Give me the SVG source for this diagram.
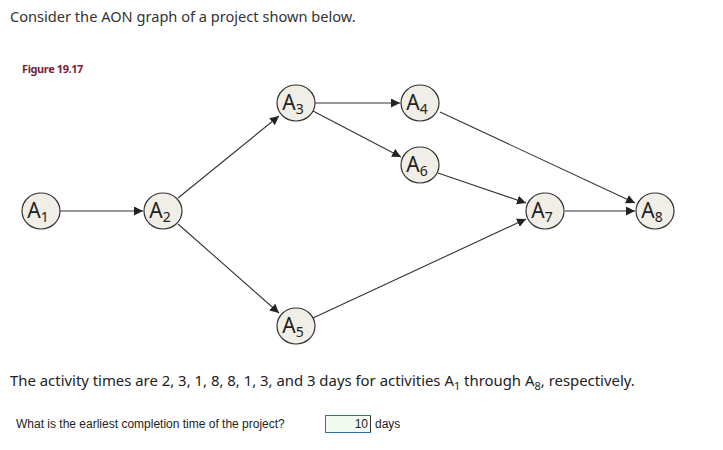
<svg xmlns="http://www.w3.org/2000/svg" width="723" height="450" viewBox="0 0 723 450">
<style>
.n{fill:#f0eee6;stroke:#333;stroke-width:1.2}
.t{font-family:"Noto Sans",sans-serif;font-size:21px;fill:#222;text-anchor:middle}
.s{font-size:14px}
.c line{stroke:#333;stroke-width:1.1;marker-end:url(#a)}
</style>
<defs><marker id="a" viewBox="0 0 10 10" refX="10" refY="5" markerWidth="9" markerHeight="9" markerUnits="userSpaceOnUse" orient="auto"><path d="M0,0L10,5L0,10z" fill="#222"/></marker></defs>
<rect width="723" height="450" fill="#fff"/>
<text x="10" y="22" font-family="'Noto Sans',sans-serif" font-size="14.6" fill="#333">Consider the AON graph of a project shown below.</text>
<text x="22" y="73" font-family="'Noto Sans',sans-serif" font-size="11" font-weight="bold" fill="#7a2233" letter-spacing="-0.4">Figure 19.17</text>
<g class="c">
<line x1="60" y1="211" x2="143" y2="211"/>
<line x1="178" y1="198" x2="279" y2="116"/>
<line x1="178" y1="224" x2="279" y2="313"/>
<line x1="315" y1="103" x2="400" y2="103"/>
<line x1="313" y1="111" x2="401" y2="157"/>
<line x1="438" y1="173" x2="526" y2="203"/>
<line x1="440" y1="112" x2="635" y2="203"/>
<line x1="313" y1="318" x2="526" y2="219"/>
<line x1="565" y1="211" x2="635" y2="211"/>
</g>
<g id="A1"><ellipse class="n" cx="41" cy="211" rx="19" ry="18"/><text class="t" x="38" y="218">A<tspan class="s" dy="4">1</tspan></text></g>
<g id="A2"><ellipse class="n" cx="163" cy="211" rx="19" ry="18"/><text class="t" x="160" y="218">A<tspan class="s" dy="4">2</tspan></text></g>
<g id="A3"><ellipse class="n" cx="296" cy="103" rx="19" ry="18"/><text class="t" x="293" y="110">A<tspan class="s" dy="4">3</tspan></text></g>
<g id="A4"><ellipse class="n" cx="420" cy="103" rx="19" ry="18"/><text class="t" x="417" y="110">A<tspan class="s" dy="4">4</tspan></text></g>
<g id="A6"><ellipse class="n" cx="420" cy="165" rx="19" ry="18"/><text class="t" x="417" y="172">A<tspan class="s" dy="4">6</tspan></text></g>
<g id="A5"><ellipse class="n" cx="296" cy="326" rx="19" ry="18"/><text class="t" x="293" y="333">A<tspan class="s" dy="4">5</tspan></text></g>
<g id="A7"><ellipse class="n" cx="545" cy="211" rx="19" ry="18"/><text class="t" x="542" y="218">A<tspan class="s" dy="4">7</tspan></text></g>
<g id="A8"><ellipse class="n" cx="655" cy="211" rx="19" ry="18"/><text class="t" x="652" y="218">A<tspan class="s" dy="4">8</tspan></text></g>
<text x="10" y="386" font-family="'Noto Sans',sans-serif" font-size="14.9" fill="#222">The activity times are 2, 3, 1, 8, 8, 1, 3, and 3 days for activities A<tspan font-size="11" dy="4">1</tspan><tspan dy="-4"> through A</tspan><tspan font-size="11" dy="4">8</tspan><tspan dy="-4">, respectively.</tspan></text>
<text x="16" y="428" font-family="'Liberation Sans',sans-serif" font-size="12" fill="#222">What is the earliest completion time of the project?</text>
<rect x="325.5" y="415.5" width="45" height="17" fill="#f2fbf0" stroke="#2d6ea8"/>
<text x="368" y="428" font-family="'Liberation Sans',sans-serif" font-size="12" fill="#222" text-anchor="end">10</text>
<line x1="370.5" y1="416" x2="370.5" y2="432" stroke="#333"/>
<text x="375" y="428" font-family="'Liberation Sans',sans-serif" font-size="12" fill="#222">days</text>
</svg>
